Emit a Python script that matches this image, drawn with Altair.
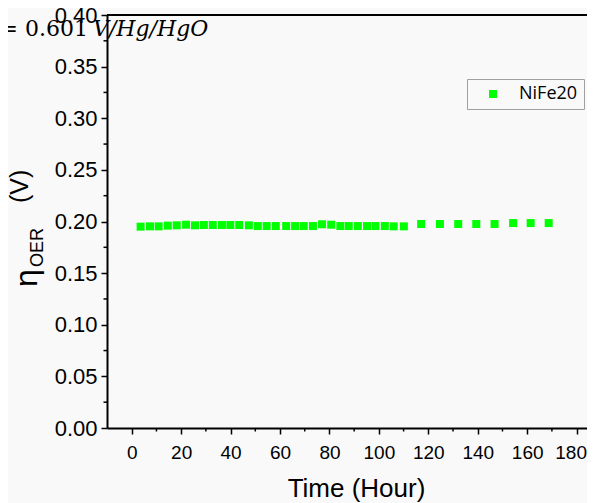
import altair as alt
import pandas as pd

# ---- data ----
hours = [3.6, 7.4, 10.9, 14.6, 18.2, 22.0, 25.6, 29.2, 32.8, 36.5, 39.9, 43.5, 47.4, 51.0, 54.6, 58.3,
         62.5, 66.1, 69.6, 73.3, 77.0, 80.7, 84.4, 87.8, 91.5, 95.2, 98.6, 102.4, 106.0, 110.1,
         117.1, 124.7, 132.1, 139.4, 146.8, 154.3, 161.4, 168.7]
eta = [0.1950, 0.1953, 0.1953, 0.1960, 0.1963, 0.1969, 0.1963, 0.1966, 0.1966, 0.1966, 0.1966, 0.1966,
       0.1963, 0.1956, 0.1956, 0.1956,
       0.1956, 0.1956, 0.1956, 0.1956, 0.1973, 0.1969, 0.1956, 0.1956, 0.1956, 0.1956, 0.1956, 0.1956,
       0.1953, 0.1953,
       0.1976, 0.1976, 0.1976, 0.1976, 0.1976, 0.1985, 0.1985, 0.1985]
series = ["NiFe20"]
x_major = [0, 20, 40, 60, 80, 100, 120, 140, 160, 180]
x_minor = [10, 30, 50, 70, 90, 110, 130, 150, 170]
y_major = [0.00, 0.05, 0.10, 0.15, 0.20, 0.25, 0.30, 0.35, 0.40]
y_minor = [0.025, 0.075, 0.125, 0.175, 0.225, 0.275, 0.325, 0.375]
x_domain = [-10, 184.2]
y_domain = [0, 0.4]

W, H = 480, 413
BLACK = "#000000"
FONT = "Liberation Sans"

xscale = alt.Scale(domain=x_domain, nice=False, zero=False)
yscale = alt.Scale(domain=y_domain, nice=False, zero=False)

df = pd.DataFrame({"h": hours, "v": eta, "s": series * len(hours)})

points = alt.Chart(df).mark_square(size=64, opacity=1, strokeWidth=0).encode(
    x=alt.X("h:Q", scale=xscale, axis=alt.Axis(
        values=x_major, title="Time (Hour)", labelFontSize=19, tickSize=6, tickWidth=1.5,
        domainWidth=2, labelPadding=9, labelFlush=False,
        labelOffset=alt.condition("datum.value == 180", alt.value(-6), alt.value(0)),
        titleFontSize=26, titleFontWeight="normal", titleFont=FONT, titleX=249, titleY=68,
        titleBaseline="alphabetic", titleAlign="center", titleColor=BLACK)),
    y=alt.Y("v:Q", scale=yscale, axis=alt.Axis(
        values=y_major, format=".2f", title=None, labelFontSize=22, tickSize=6, tickWidth=1.5,
        domainWidth=2, labelPadding=4, labelOverlap=False)),
    color=alt.Color("s:N", scale=alt.Scale(domain=series, range=["#00FF00"]), legend=alt.Legend(
        title=None, orient="none", legendX=360, legendY=64, strokeColor="#a0a0a0",
        padding=6, symbolType="square", symbolSize=64, symbolOffset=11, labelOffset=17,
        labelFont="Open Sans", labelFontSize=18, labelColor=BLACK, symbolStrokeWidth=0)),
)

ymin_df = pd.DataFrame({"m": y_minor})
y_minor_ticks = alt.Chart(ymin_df).mark_rule(color=BLACK, strokeWidth=1.5).encode(
    y=alt.Y("m:Q", scale=yscale, axis=None), x=alt.value(-3.5), x2=alt.value(0))

xmin_df = pd.DataFrame({"m": x_minor})
x_minor_ticks = alt.Chart(xmin_df).mark_rule(color=BLACK, strokeWidth=1.5).encode(
    x=alt.X("m:Q", scale=xscale, axis=None), y=alt.value(H), y2=alt.value(H + 3.5))

top_df = pd.DataFrame({"t": [y_domain[1]]})
top_line = alt.Chart(top_df).mark_rule(color=BLACK, strokeWidth=2).encode(
    y=alt.Y("t:Q", scale=yscale, axis=None), x=alt.value(0), x2=alt.value(W))

ann1 = alt.Chart(pd.DataFrame({"t": ["= 0.601"]})).mark_text(
    font="DejaVu Serif", fontSize=22, align="right", baseline="alphabetic", color=BLACK
).encode(text="t:N", x=alt.value(-19), y=alt.value(21))
ann2 = alt.Chart(pd.DataFrame({"t": ["V/Hg/HgO"]})).mark_text(
    font="DejaVu Serif", fontSize=22, fontStyle="italic", align="left", baseline="alphabetic", color=BLACK
).encode(text="t:N", x=alt.value(-14), y=alt.value(21))

yt1 = alt.Chart(pd.DataFrame({"t": ["η"]})).mark_text(
    font=FONT, fontSize=32, angle=270, align="left", baseline="alphabetic", color=BLACK
).encode(text="t:N", x=alt.value(-70), y=alt.value(272))
yt2 = alt.Chart(pd.DataFrame({"t": ["OER"]})).mark_text(
    font=FONT, fontSize=18, angle=270, align="left", baseline="alphabetic", color=BLACK
).encode(text="t:N", x=alt.value(-64), y=alt.value(252))
yt3 = alt.Chart(pd.DataFrame({"t": ["(V)"]})).mark_text(
    font=FONT, fontSize=25, angle=270, align="left", baseline="alphabetic", color=BLACK
).encode(text="t:N", x=alt.value(-79), y=alt.value(188))

chart = alt.layer(
    points, top_line, y_minor_ticks, x_minor_ticks, ann1, ann2, yt1, yt2, yt3
).resolve_axis(x="independent", y="independent").properties(
    width=W, height=H,
    autosize=alt.AutoSizeParams(type="none"),
    padding={"left": 99, "top": 7, "right": 0, "bottom": 75},
    background="#f9f9f9",
).configure_view(stroke=None).configure_axis(
    domainColor=BLACK, tickColor=BLACK, labelColor=BLACK, labelFont=FONT, grid=False
)

chart.save("out.html", embed_options={"renderer": "svg", "actions": False})
